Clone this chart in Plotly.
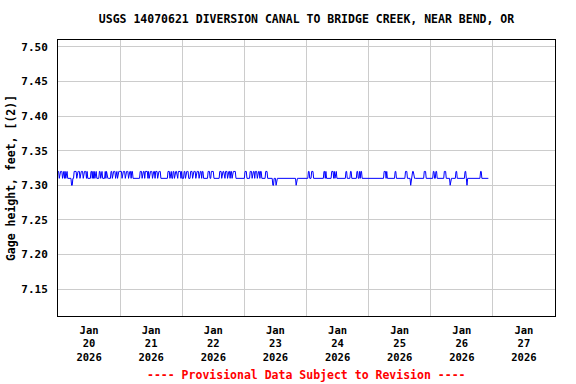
import pandas as pd
import plotly.graph_objects as go

# Gage height readings every 15 minutes, one string per day.
# Code per reading: '0' = 7.30 ft, '1' = 7.31 ft, '2' = 7.32 ft
LEVELS = {"0": 7.30, "1": 7.31, "2": 7.32}

day_starts = ["2026-01-20", "2026-01-21", "2026-01-22", "2026-01-23",
              "2026-01-24", "2026-01-25", "2026-01-26"]

jan20 = ("22122221" "22121221" "11111" "00" "11" "2222122221222" "212222121"
         "1111" "2212" "1" "2122" "1111" "221221" "111" "212" "111111"
         "22122221221222")
jan21 = ("222122221222212221221" "1111111111"
         "22212221222212122221222122212222" "11111111111" "222122" "11"
         "221222" "11" "222212")
jan22 = ("111" "2212222" "111" "2221222212222" "1" "222122" "1111111"
         "222112222" "111111111" "2221222112221222122122222" "1111111111111")
jan23 = ("1" "222" "11111" "222122212221222122" "111111" "222" "11111111"
         "00" "111" "0" + "1" * 30 + "0" + "1" * 15)
jan24 = ("111" "22" "111" "222" + "1" * 16 + "2212" + "1" * 8 + "222" "1"
         "2122" + "1" * 14 + "22" "11111" "22" + "1" * 8 + "22112122" + "1" * 10)
jan25 = ("1" * 24 + "22212" + "1" * 12 + "22" + "1" * 14 + "222" "1111"
         "101" "1" "22" + "1" * 16 + "222" + "1" * 7)
jan26 = ("1111" "2211221" + "1" * 10 + "222" "111111" "0" + "1" * 8 + "22"
         + "1" * 12 + "22" "10" + "1" * 20 + "22" + "1" * 11)
daily_codes = [jan20, jan21, jan22, jan23, jan24, jan25, jan26]

tick_days = ["2026-01-20", "2026-01-21", "2026-01-22", "2026-01-23",
             "2026-01-24", "2026-01-25", "2026-01-26", "2026-01-27"]
tick_labels = ["Jan<br>20<br>2026", "Jan<br>21<br>2026", "Jan<br>22<br>2026",
               "Jan<br>23<br>2026", "Jan<br>24<br>2026", "Jan<br>25<br>2026",
               "Jan<br>26<br>2026", "Jan<br>27<br>2026"]
y_ticks = [7.15, 7.20, 7.25, 7.30, 7.35, 7.40, 7.45, 7.50]

times, values = [], []
for start, codes in zip(day_starts, daily_codes):
    t0 = pd.Timestamp(start)
    for i, c in enumerate(codes):
        times.append(t0 + pd.Timedelta(minutes=15 * i))
        values.append(LEVELS[c])

FONT = "DejaVu Sans Mono"

fig = go.Figure()
fig.add_trace(go.Scatter(x=times, y=values, mode="lines",
                         line=dict(color="#0000ff", width=1),
                         hoverinfo="x+y", showlegend=False))

noon_ticks = [pd.Timestamp(d) + pd.Timedelta(hours=12) for d in tick_days]
midnights = [pd.Timestamp(d) for d in tick_days] + [pd.Timestamp("2026-01-28")]

fig.update_layout(
    width=576, height=384,
    margin=dict(l=58, r=21, t=40, b=68, autoexpand=False),
    paper_bgcolor="white", plot_bgcolor="white",
    font=dict(family=FONT, size=11.5, color="black", weight="bold"),
    title=dict(text="USGS 14070621 DIVERSION CANAL TO BRIDGE CREEK, NEAR BEND, OR",
               x=0.5, xref="paper", y=1 - 19 / 384, yanchor="middle",
               font=dict(family=FONT, size=11.5, color="black", weight="bold")),
    xaxis=dict(
        range=[pd.Timestamp("2026-01-20"), pd.Timestamp("2026-01-28")],
        tickvals=noon_ticks, ticktext=tick_labels, showgrid=False,
        ticks="outside", ticklen=4, tickcolor="rgba(0,0,0,0)",
        minor=dict(tickvals=midnights, showgrid=True, gridcolor="#cccccc",
                   gridwidth=1, ticks=""),
        showline=True, linecolor="black", linewidth=1, mirror=True,
        zeroline=False, tickangle=0, automargin=False,
        tickfont=dict(family=FONT, size=10.5, color="black", weight="bold"),
    ),
    yaxis=dict(
        range=[7.111, 7.510], tickvals=y_ticks, tickformat=".2f",
        showgrid=True, gridcolor="#cccccc", gridwidth=1,
        ticks="outside", ticklen=7, tickcolor="rgba(0,0,0,0)",
        showline=True, linecolor="black", linewidth=1, mirror=True,
        zeroline=False, automargin=False,
        title=dict(text="Gage height, feet, [(2)]", standoff=3,
                   font=dict(family=FONT, size=11.5, color="black", weight="bold")),
        tickfont=dict(family=FONT, size=11, color="black", weight="bold"),
    ),
    annotations=[dict(text="---- Provisional Data Subject to Revision ----",
                      xref="paper", yref="paper", x=0.5, y=-59 / 276,
                      xanchor="center", yanchor="middle", showarrow=False,
                      font=dict(family=FONT, size=11.5, color="#ff0000", weight="bold"))],
)

fig.write_html("out.html", config={"displayModeBar": False},
               post_script="document.body.style.margin='0';")
